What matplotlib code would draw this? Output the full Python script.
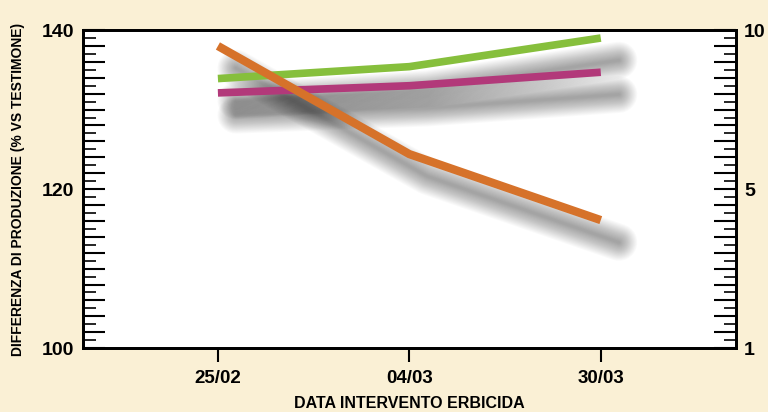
import matplotlib
matplotlib.use("Agg")
import matplotlib.pyplot as plt
from matplotlib import transforms
from matplotlib.ticker import MultipleLocator, FuncFormatter

# data
dates = ["25/02", "04/03", "30/03"]
green = [133.9, 135.4, 139.0]
magenta = [132.1, 133.0, 134.7]
orange = [138.0, 124.4, 116.1]

left_labels = {100: "100", 120: "120", 140: "140"}
right_labels = {100: "1", 120: "5", 140: "10"}

bg = "#faf0d5"
plt.rcParams["font.family"] = ["Liberation Sans", "DejaVu Sans"]
plt.rcParams["font.weight"] = "bold"

fig = plt.figure(figsize=(7.68, 4.12), dpi=100, facecolor=bg)
ax = fig.add_axes([0.108, 0.155, 0.85, 0.772])
ax.set_facecolor("white")

x = list(range(len(dates)))
series = [(green, "#86bf3c", 5.5), (magenta, "#b2397a", 5.5), (orange, "#d6722a", 6.0)]

# soft drop shadows: many thin translucent strokes, widest first
shadow_tr = transforms.offset_copy(ax.transData, fig=fig, x=13, y=-16, units="points")
widths = [2 + 1.3 * i for i in range(20)][::-1]
for vals, _, _ in series:
    for lw in widths:
        ax.plot(x, vals, color="black", lw=lw, alpha=0.019, transform=shadow_tr,
                solid_capstyle="round", solid_joinstyle="round", zorder=1)

for vals, col, lw in series:
    ax.plot(x, vals, color=col, lw=lw, solid_capstyle="butt", zorder=3)

ax.set_xlim(-0.705, 2.705)
ax.set_ylim(100, 140)
ax.set_xticks(x)
ax.set_xticklabels(dates, fontsize=13.5, fontweight="bold")
ax.tick_params(axis="x", direction="out", length=10, width=1.5, pad=6)

for s in ax.spines.values():
    s.set_linewidth(2)
    s.set_color("black")

ax.yaxis.set_major_locator(MultipleLocator(2))
ax.yaxis.set_minor_locator(MultipleLocator(1))
ax.yaxis.set_major_formatter(FuncFormatter(lambda v, p: left_labels.get(int(round(v)), "")))
ax.tick_params(axis="y", which="major", direction="in", length=16, width=1.5,
               labelsize=14, pad=6)
ax.tick_params(axis="y", which="minor", direction="in", length=9, width=1.2)

ax2 = ax.twinx()
ax2.set_ylim(100, 140)
ax2.yaxis.set_major_locator(MultipleLocator(2))
ax2.yaxis.set_minor_locator(MultipleLocator(1))
ax2.yaxis.set_major_formatter(FuncFormatter(lambda v, p: right_labels.get(int(round(v)), "")))
ax2.tick_params(axis="y", which="major", direction="in", length=16, width=1.5,
                labelsize=14, pad=6)
ax2.tick_params(axis="y", which="minor", direction="in", length=9, width=1.2)
for s in ax2.spines.values():
    s.set_linewidth(2)

for lab in ax.get_yticklabels() + ax2.get_yticklabels():
    lab.set_fontweight("bold")

ax.set_ylabel("DIFFERENZA DI PRODUZIONE (% VS TESTIMONE)", fontsize=10,
              fontweight="bold", va="center")
ax.yaxis.set_label_coords(-0.099, 0.5)
ax.set_xlabel("DATA INTERVENTO ERBICIDA", fontsize=11.5, fontweight="bold", va="center")
ax.xaxis.set_label_coords(0.5, -0.173)

fig.savefig("out.png", dpi=100, facecolor=bg)
